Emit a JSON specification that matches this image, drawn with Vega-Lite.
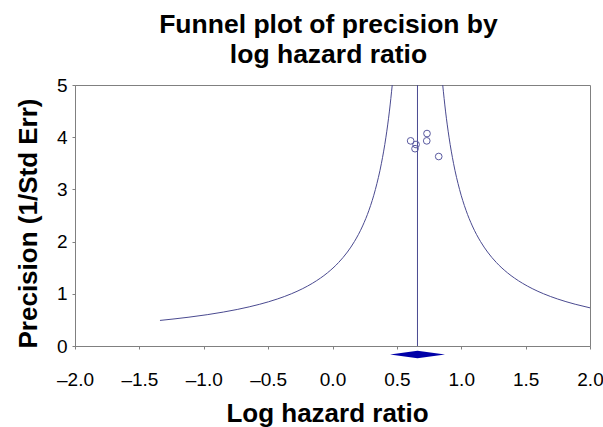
{
  "$schema": "https://vega.github.io/schema/vega-lite/v6.json",
  "width": 515,
  "height": 261,
  "autosize": {"type": "none"},
  "padding": {"left": 75, "top": 85, "right": 13, "bottom": 81},
  "background": "white",
  "title": {
    "text": ["Funnel plot of precision by", "log hazard ratio"],
    "font": "Liberation Sans",
    "fontSize": 26.5,
    "fontWeight": "bold",
    "color": "black",
    "anchor": "middle",
    "dx": -4,
    "offset": 8,
    "lineHeight": 30
  },
  "config": {
    "view": {"stroke": "#808080", "strokeWidth": 1},
    "axis": {
      "grid": false,
      "domainColor": "#808080",
      "tickColor": "#808080",
      "labelFont": "Liberation Sans",
      "labelFontSize": 19,
      "labelColor": "black",
      "titleFont": "Liberation Sans",
      "titleFontSize": 26,
      "titleFontWeight": "bold",
      "titleColor": "black"
    }
  },
  "datasets": {
    "curves": [
      {"side": "left", "x": -1.34, "y": 0.49},
      {"side": "left", "x": -1.122, "y": 0.55},
      {"side": "left", "x": -0.973, "y": 0.6},
      {"side": "left", "x": -0.848, "y": 0.65},
      {"side": "left", "x": -0.74, "y": 0.7},
      {"side": "left", "x": -0.647, "y": 0.75},
      {"side": "left", "x": -0.565, "y": 0.8},
      {"side": "left", "x": -0.429, "y": 0.9},
      {"side": "left", "x": -0.32, "y": 1.0},
      {"side": "left", "x": -0.231, "y": 1.1},
      {"side": "left", "x": -0.157, "y": 1.2},
      {"side": "left", "x": -0.094, "y": 1.3},
      {"side": "left", "x": -0.04, "y": 1.4},
      {"side": "left", "x": 0.0475, "y": 1.6},
      {"side": "left", "x": 0.1156, "y": 1.8},
      {"side": "left", "x": 0.17, "y": 2.0},
      {"side": "left", "x": 0.2339, "y": 2.3},
      {"side": "left", "x": 0.2831, "y": 2.6},
      {"side": "left", "x": 0.3333, "y": 3.0},
      {"side": "left", "x": 0.38, "y": 3.5},
      {"side": "left", "x": 0.415, "y": 4.0},
      {"side": "left", "x": 0.4422, "y": 4.5},
      {"side": "left", "x": 0.464, "y": 5.0},
      {"side": "right", "x": 2.0, "y": 0.731},
      {"side": "right", "x": 1.885, "y": 0.8},
      {"side": "right", "x": 1.813, "y": 0.85},
      {"side": "right", "x": 1.749, "y": 0.9},
      {"side": "right", "x": 1.64, "y": 1.0},
      {"side": "right", "x": 1.551, "y": 1.1},
      {"side": "right", "x": 1.477, "y": 1.2},
      {"side": "right", "x": 1.414, "y": 1.3},
      {"side": "right", "x": 1.36, "y": 1.4},
      {"side": "right", "x": 1.2725, "y": 1.6},
      {"side": "right", "x": 1.2044, "y": 1.8},
      {"side": "right", "x": 1.15, "y": 2.0},
      {"side": "right", "x": 1.0861, "y": 2.3},
      {"side": "right", "x": 1.0369, "y": 2.6},
      {"side": "right", "x": 0.9867, "y": 3.0},
      {"side": "right", "x": 0.94, "y": 3.5},
      {"side": "right", "x": 0.905, "y": 4.0},
      {"side": "right", "x": 0.8778, "y": 4.5},
      {"side": "right", "x": 0.856, "y": 5.0}
    ],
    "studies": [
      {"x": 0.607, "y": 3.93},
      {"x": 0.649, "y": 3.86},
      {"x": 0.641, "y": 3.78},
      {"x": 0.734, "y": 4.07},
      {"x": 0.732, "y": 3.93},
      {"x": 0.825, "y": 3.63}
    ],
    "center": [{"x": 0.66, "y": 0, "y2": 5}],
    "diamond": [
      {"x": 0.447, "y": -0.163, "y2": -0.163},
      {"x": 0.66, "y": -0.09, "y2": -0.236},
      {"x": 0.874, "y": -0.163, "y2": -0.163}
    ]
  },
  "encoding": {
    "x": {
      "field": "x",
      "type": "quantitative",
      "scale": {"domain": [-2, 2], "nice": false, "zero": false},
      "axis": {
        "title": "Log hazard ratio",
        "values": [-2, -1.5, -1, -0.5, 0, 0.5, 1, 1.5, 2],
        "labelExpr": "datum.value < 0 ? '–' + format(-datum.value, '.1f') : format(datum.value, '.1f')",
        "labelFlush": false,
        "labelOverlap": false,
        "tickSize": 3,
        "labelPadding": 21,
        "titleX": 252,
        "titleY": 75,
        "titleBaseline": "alphabetic",
        "titleAnchor": "middle"
      }
    },
    "y": {
      "field": "y",
      "type": "quantitative",
      "scale": {"domain": [0, 5], "nice": false, "zero": false},
      "axis": {
        "title": "Precision (1/Std Err)",
        "values": [0, 1, 2, 3, 4, 5],
        "format": "d",
        "tickSize": 3,
        "labelPadding": 5,
        "titleX": -39,
        "titleY": 138,
        "titleBaseline": "alphabetic",
        "titleAnchor": "middle"
      }
    }
  },
  "layer": [
    {
      "data": {"name": "curves"},
      "mark": {"type": "line", "color": "#4a4a90", "strokeWidth": 1, "interpolate": "monotone"},
      "encoding": {
        "detail": {"field": "side", "type": "nominal"},
        "order": {"field": "y", "type": "quantitative"}
      }
    },
    {
      "data": {"name": "center"},
      "mark": {"type": "rule", "color": "#4a4a90", "strokeWidth": 1},
      "encoding": {
        "y2": {"field": "y2"}
      }
    },
    {
      "data": {"name": "studies"},
      "mark": {"type": "point", "shape": "circle", "filled": false, "color": "#5a5aa0", "size": 45, "strokeWidth": 1, "opacity": 1},
      "encoding": {}
    },
    {
      "data": {"name": "diamond"},
      "mark": {"type": "area", "color": "#0000a8", "orient": "vertical", "clip": false},
      "encoding": {
        "y2": {"field": "y2"}
      }
    }
  ]
}
